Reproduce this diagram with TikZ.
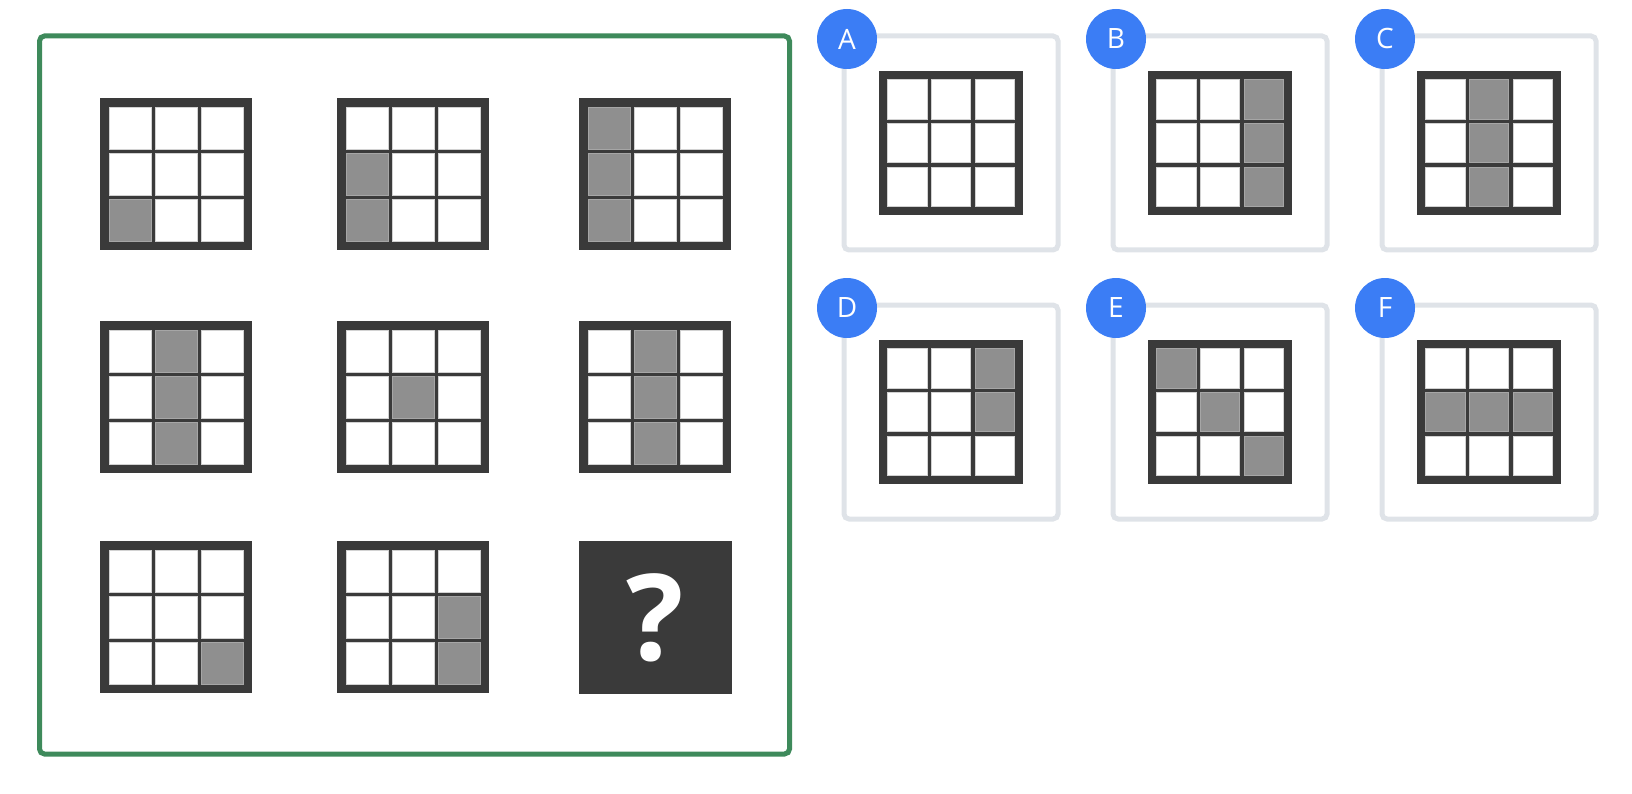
\documentclass[tikz,border=0pt]{standalone}
\usepackage{fontspec}
\setmainfont{Open Sans}
\usepackage{tikz}
\usetikzlibrary{positioning}

\definecolor{framegreen}{HTML}{3E8A5B}
\definecolor{griddark}{HTML}{3A3A3A}
\definecolor{cellgray}{HTML}{8F8F8F}
\definecolor{badgeblue}{HTML}{3B7DF5}
\definecolor{panelgray}{HTML}{DFE3E8}

% empty 3x3 grid: top-left x, top-left y, size
\newcommand{\emptygrid}[3]{%
  \pgfmathsetmacro{\bw}{0.06*#3}
  \pgfmathsetmacro{\gap}{0.0285*#3}
  \pgfmathsetmacro{\cw}{(#3-2*\bw-2*\gap)/3}
  \fill[griddark] (#1,#2) rectangle ++(#3,#3);
  \foreach \gi in {0,1,2}{
    \foreach \gj in {0,1,2}{
      \filldraw[cell] ({#1+\bw+\gi*(\cw+\gap)},{#2+\bw+\gj*(\cw+\gap)}) rectangle ++(\cw,\cw);
    }
  }
}
% gray cells of a grid: x, y, size, list of col/row
\newcommand{\graycells}[4]{%
  \pgfmathsetmacro{\bw}{0.06*#3}
  \pgfmathsetmacro{\gap}{0.0285*#3}
  \pgfmathsetmacro{\cw}{(#3-2*\bw-2*\gap)/3}
  \foreach \gi/\gj in {#4}{
    \filldraw[cell, fill=cellgray, draw=gray!70] ({#1+\bw+\gi*(\cw+\gap)},{#2+\bw+\gj*(\cw+\gap)}) rectangle ++(\cw,\cw);
  }
}

\begin{document}
\begin{tikzpicture}[
    x=1pt, y=-1pt,
    cell/.style={fill=white, draw=gray!35, line width=0.6pt},
    frame/.style={draw=framegreen, line width=5pt, rounded corners=5pt},
    panel/.style={draw=panelgray, line width=5pt, rounded corners=5pt},
    badge/.style={circle, fill=badgeblue, minimum size=60pt, inner sep=0pt, text=white, font=\fontsize{28}{28}\selectfont},
    qmark/.style={text=white, inner sep=0pt, font=\fontsize{120}{120}\selectfont\bfseries},
]
\useasboundingbox (0,0) rectangle (1632,794);

% Puzzle frame
\draw[frame] (39.5,36) rectangle (789.5,754);

% Row 1
\emptygrid{100}{98}{152}
\graycells{100}{98}{152}{0/2}
\emptygrid{337}{98}{152}
\graycells{337}{98}{152}{0/1,0/2}
\emptygrid{579}{98}{152}
\graycells{579}{98}{152}{0/0,0/1,0/2}

% Row 2
\emptygrid{100}{321}{152}
\graycells{100}{321}{152}{1/0,1/1,1/2}
\emptygrid{337}{321}{152}
\graycells{337}{321}{152}{1/1}
\emptygrid{579}{321}{152}
\graycells{579}{321}{152}{1/0,1/1,1/2}

% Row 3
\emptygrid{100}{541}{152}
\graycells{100}{541}{152}{2/2}
\emptygrid{337}{541}{152}
\graycells{337}{541}{152}{2/1,2/2}
\fill[griddark] (579,541) rectangle ++(153,153);
\node[qmark] (qmark) at (655.5,618) {?};

% Answer options
% A
\draw[panel] (844,36) rectangle ++(214,214);
\emptygrid{879}{71}{144}
\node[badge] (badgeA) at (847,39) {A};
% B
\draw[panel] (1113,36) rectangle ++(214,214);
\emptygrid{1148}{71}{144}
\graycells{1148}{71}{144}{2/0,2/1,2/2}
\node[badge] (badgeB) at (1116,39) {B};
% C
\draw[panel] (1382,36) rectangle ++(214,214);
\emptygrid{1417}{71}{144}
\graycells{1417}{71}{144}{1/0,1/1,1/2}
\node[badge] (badgeC) at (1385,39) {C};
% D
\draw[panel] (844,305) rectangle ++(214,214);
\emptygrid{879}{340}{144}
\graycells{879}{340}{144}{2/0,2/1}
\node[badge] (badgeD) at (847,308) {D};
% E
\draw[panel] (1113,305) rectangle ++(214,214);
\emptygrid{1148}{340}{144}
\graycells{1148}{340}{144}{0/0,1/1,2/2}
\node[badge] (badgeE) at (1116,308) {E};
% F
\draw[panel] (1382,305) rectangle ++(214,214);
\emptygrid{1417}{340}{144}
\graycells{1417}{340}{144}{0/1,1/1,2/1}
\node[badge] (badgeF) at (1385,308) {F};

\end{tikzpicture}
\end{document}
